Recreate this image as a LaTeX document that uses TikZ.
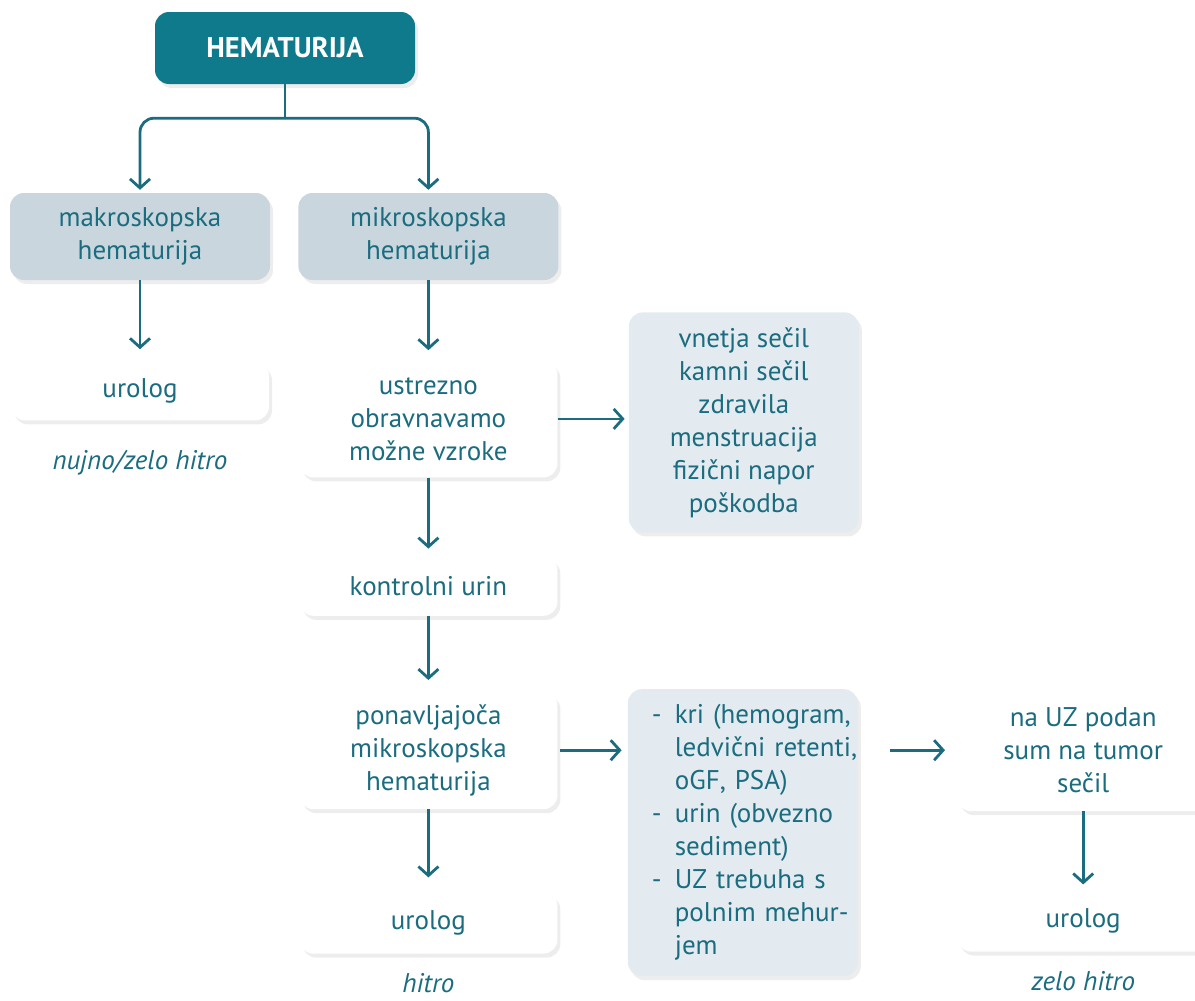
\documentclass[tikz,border=0pt]{standalone}
\usepackage{fontspec}
\setmainfont{PT Sans}
\usepackage{tikz}
\usetikzlibrary{positioning,shadows,arrows.meta}
\definecolor{hemteal}{HTML}{0F7A8C}
\definecolor{hemtext}{HTML}{1A6C7E}
\definecolor{hemgray}{HTML}{C9D6DE}
\definecolor{hemlight}{HTML}{E3EBF0}
\newcommand{\lstdash}{\hspace*{12pt}\makebox[23pt][l]{-}}
\newcommand{\lstind}{\hspace*{35pt}}
\tikzstyle{arr}=[
	-{Straight Barb[length=9pt,width=20pt]},
	line width=2.8pt,
	draw=hemtext
]
\tikzstyle{conn}=[
	-,
	line width=2.8pt,
	draw=hemtext
]
\tikzstyle{basebox}=[
    rounded corners=14pt,
    text=hemtext,
    align=center,
    inner sep=0pt,
    font=\fontsize{27}{33}\selectfont,
    drop shadow={opacity=.14, shadow xshift=3pt, shadow yshift=-4pt}
]
\tikzstyle{headbox}=[
    basebox,
    fill=hemteal,
    text=white,
    font=\fontsize{28.5}{30}\selectfont\bfseries,
    minimum width=260pt,
    minimum height=72pt
]
\tikzstyle{graybox}=[
    basebox,
    fill=hemgray,
    minimum width=260pt,
    minimum height=87pt
]
\tikzstyle{whitebox}=[
    basebox,
    fill=white,
    minimum width=258pt
]
\tikzstyle{lightbox}=[
    basebox,
    fill=hemlight,
    minimum width=230pt
]
\tikzstyle{note}=[
    text=hemtext,
    inner sep=0pt,
    font=\fontsize{27}{33}\selectfont\itshape
]

\begin{document}
\begin{tikzpicture}[x=1pt,y=1pt]
\useasboundingbox (0,0) rectangle (1195,-1001);

\node[headbox] (hem) at (285,-48) {HEMATURIJA};
\node[graybox] (mak) at (140,-236.5) {makroskopska\\hematurija};
\node[graybox, right=28pt of mak] (mik) {mikroskopska\\hematurija};
\node[whitebox, minimum height=58pt, below=82pt of mak] (uro1) {urolog};
\node[note, below=29pt of uro1] (n1) {nujno/zelo hitro};
\node[whitebox, minimum height=117pt, below=80pt of mik] (ustr) {ustrezno\\obravnavamo\\možne vzroke};
\node[lightbox, minimum height=220pt, right=71pt of ustr, yshift=-3.5pt] (vnet) {vnetja sečil\\kamni sečil\\zdravila\\menstruacija\\fizični napor\\poškodba};
\node[whitebox, minimum height=60pt, below=78pt of ustr] (kont) {kontrolni urin};
\node[whitebox, minimum height=118pt, below=75pt of kont] (pona) {ponavljajoča\\mikroskopska\\hematurija};
\node[whitebox, minimum height=62pt, below=82pt of pona] (uro2) {urolog};
\node[note, below=19pt of uro2] (n2) {hitro};
\node[lightbox, minimum height=287pt, text width=206pt, inner xsep=12pt, align=left,
      right=70pt of pona.north east, anchor=north west, yshift=2pt] (list)
     {\mbox{\lstdash kri (hemogram,}\\\mbox{\lstind ledvični retenti,}\\\mbox{\lstind oGF, PSA)}\\
      \mbox{\lstdash urin (obvezno}\\\mbox{\lstind sediment)}\\
      \mbox{\lstdash UZ trebuha s}\\\mbox{\lstind polnim mehur-}\\\mbox{\lstind jem}};
\node[whitebox, minimum width=252pt, minimum height=122pt,
      right=99pt of list.north east, anchor=north west] (tum) {na UZ podan\\sum na tumor\\sečil};
\node[whitebox, minimum width=252pt, minimum height=62pt, below=78pt of tum] (uro3) {urolog};
\node[note, below=19pt of uro3] (n3) {zelo hitro};

\coordinate[below=34pt of hem] (fork);
\draw[conn] (hem) to (fork);
\draw[arr, rounded corners=14pt, shorten >=3pt] (fork) -| (mak.north);
\draw[arr, rounded corners=14pt, shorten >=3pt] (fork) -| (mik.north);

\draw[arr, shorten >=13pt] (mak) to (uro1);
\draw[arr, shorten >=10pt] (mik) to (ustr);
\draw[arr, shorten >=7pt] (ustr) to (kont);
\draw[arr, shorten >=11pt] (kont) to (pona);
\draw[arr, shorten >=14pt] (pona) to (uro2);
\draw[arr, shorten >=5pt] (tum.south -| uro3.north) to (uro3.north);

\draw[arr, shorten >=4pt] (ustr.east) to (ustr.east -| vnet.west);
\draw[arr, shorten <=2pt, shorten >=6pt] (pona.east) to (pona.east -| list.west);
\draw[arr, shorten <=32pt, shorten >=12pt] (pona.east -| list.east) to (pona.east -| tum.west);

\end{tikzpicture}
\end{document}
